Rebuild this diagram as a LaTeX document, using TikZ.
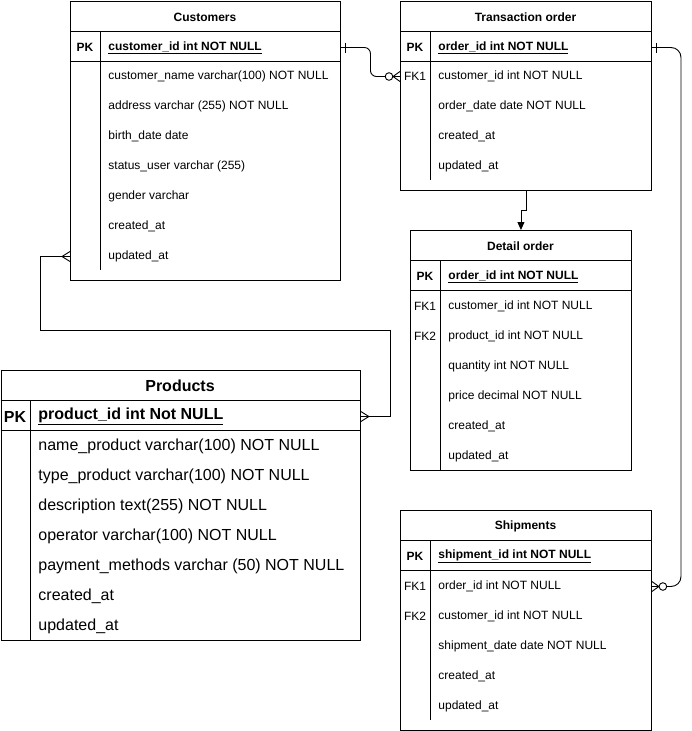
\documentclass[tikz,border=0pt]{standalone}
\usepackage{fontspec}
\setmainfont{Liberation Sans}
\usetikzlibrary{arrows.meta,calc}

\begin{document}
\begin{tikzpicture}[x=1pt,y=-1pt,
  line width=0.9pt,
  frame/.style={draw, line width=0.9pt, inner sep=0, anchor=north west},
  ttl/.style={font=\fontsize{12}{14}\selectfont\bfseries, inner sep=0, yshift=-1.2pt},
  ttlbig/.style={font=\fontsize{16}{19}\selectfont\bfseries, inner sep=0, yshift=-1.2pt},
  fld/.style={font=\fontsize{12}{14}\selectfont, anchor=west, inner sep=0, yshift=-1.5pt},
  fldbig/.style={font=\fontsize{16}{19}\selectfont, anchor=west, inner sep=0, yshift=-1.5pt},
  keyc/.style={font=\fontsize{12}{14}\selectfont, inner sep=0, yshift=-1.5pt},
  keybig/.style={font=\fontsize{16}{19}\selectfont\bfseries, inner sep=0, yshift=-1.5pt},
  conn/.style={line width=0.9pt},
  pics/many/.style={code={\draw[conn] (0,-5) -- (8,0) -- (0,5) (0,0) -- (8,0);}},
  pics/zeromany/.style={code={
    \draw[conn] (0,-5) -- (7,0) -- (0,5) (0,0) -- (7,0);
    \draw[conn,fill=white] (11,0) circle (3.8);}},
  pics/onebar/.style={code={\draw[conn] (5,-5) -- (5,5);}},
]
\useasboundingbox (0,0) rectangle (691,731);

% ---------- Customers ----------
\node[frame, minimum width=270, minimum height=279] (cust) at (70,1) {};
\draw (70,31) -- (340,31) (70,61) -- (340,61) (100,31) -- (100,270);
\node[ttl] (custT) at (205,16) {Customers};
\node[keyc, font=\fontsize{12}{14}\selectfont\bfseries] (custK) at (85,46) {PK};
\node[fld] (custpk) at (108,46) {\textbf{\underline{customer\_id int NOT NULL}}};
\node[fld] (cust1) at (108,75) {customer\_name varchar(100) NOT NULL};
\node[fld] (cust2) at (108,105) {address varchar (255) NOT NULL};
\node[fld] (cust3) at (108,135) {birth\_date date};
\node[fld] (cust4) at (108,165) {status\_user varchar (255)};
\node[fld] (cust5) at (108,195) {gender varchar};
\node[fld] (cust6) at (108,225) {created\_at};
\node[fld] (cust7) at (108,255) {updated\_at};

% ---------- Transaction order ----------
\node[frame, minimum width=251, minimum height=189] (trans) at (400,1) {};
\draw (400,31) -- (651,31) (400,61) -- (651,61) (430,31) -- (430,180);
\node[ttl] (transT) at (525.5,16) {Transaction order};
\node[keyc, font=\fontsize{12}{14}\selectfont\bfseries] (transK) at (415,46) {PK};
\node[fld] (transpk) at (438,46) {\textbf{\underline{order\_id int NOT NULL}}};
\node[keyc] (transF1) at (415,75) {FK1};
\node[fld] (trans1) at (438,75) {customer\_id int NOT NULL};
\node[fld] (trans2) at (438,105) {order\_date date NOT NULL};
\node[fld] (trans3) at (438,135) {created\_at};
\node[fld] (trans4) at (438,165) {updated\_at};

% ---------- Detail order ----------
\node[frame, minimum width=221, minimum height=240] (det) at (410,230) {};
\draw (410,260) -- (631,260) (410,290) -- (631,290) (440,260) -- (440,470);
\node[ttl] (detT) at (520.5,245) {Detail order};
\node[keyc, font=\fontsize{12}{14}\selectfont\bfseries] (detK) at (425,275) {PK};
\node[fld] (detpk) at (448,275) {\textbf{\underline{order\_id int NOT NULL}}};
\node[keyc] (detF1) at (425,305) {FK1};
\node[keyc] (detF2) at (425,335) {FK2};
\node[fld] (det1) at (448,305) {customer\_id int NOT NULL};
\node[fld] (det2) at (448,335) {product\_id int NOT NULL};
\node[fld] (det3) at (448,365) {quantity int NOT NULL};
\node[fld] (det4) at (448,395) {price decimal NOT NULL};
\node[fld] (det5) at (448,425) {created\_at};
\node[fld] (det6) at (448,455) {updated\_at};

% ---------- Shipments ----------
\node[frame, minimum width=251, minimum height=220] (ship) at (400,510) {};
\draw (400,540) -- (651,540) (400,570) -- (651,570) (430,540) -- (430,720);
\node[ttl] (shipT) at (525.5,525) {Shipments};
\node[keyc, font=\fontsize{12}{14}\selectfont\bfseries] (shipK) at (415,555) {PK};
\node[fld] (shippk) at (438,555) {\textbf{\underline{shipment\_id int NOT NULL}}};
\node[keyc] (shipF1) at (415,585) {FK1};
\node[keyc] (shipF2) at (415,615) {FK2};
\node[fld] (ship1) at (438,585) {order\_id int NOT NULL};
\node[fld] (ship2) at (438,615) {customer\_id int NOT NULL};
\node[fld] (ship3) at (438,645) {shipment\_date date NOT NULL};
\node[fld] (ship4) at (438,675) {created\_at};
\node[fld] (ship5) at (438,705) {updated\_at};

% ---------- Products ----------
\node[frame, minimum width=359.5, minimum height=270] (prod) at (0.5,370) {};
\draw (0.5,400) -- (360,400) (0.5,430) -- (360,430) (30,400) -- (30,640);
\node[ttlbig] (prodT) at (180,385) {Products};
\node[keybig] (prodK) at (15,415) {PK};
\node[fldbig] (prodpk) at (38,415) {\textbf{\underline{product\_id int Not NULL}}};
\node[fldbig] (prod1) at (38,445) {name\_product varchar(100) NOT NULL};
\node[fldbig] (prod2) at (38,475) {type\_product varchar(100) NOT NULL};
\node[fldbig] (prod3) at (38,505) {description text(255) NOT NULL};
\node[fldbig] (prod4) at (38,535) {operator varchar(100) NOT NULL};
\node[fldbig] (prod5) at (38,565) {payment\_methods varchar (50) NOT NULL};
\node[fldbig] (prod6) at (38,595) {created\_at};
\node[fldbig] (prod7) at (38,625) {updated\_at};

% ---------- Relationships ----------
% Customers 1 -- 0..* Transaction order
\coordinate (c1a) at (cust.east |- custpk);
\coordinate (c1b) at (trans.west |- trans1);
\draw[conn, rounded corners=6pt] (c1a) -| ($(c1a)!0.5!(c1b)$) |- (c1b);
\pic at (c1a) {onebar};
\pic[rotate=180] at (c1b) {zeromany};

% Customers * -- * Products
\coordinate (c2a) at (cust.west |- cust7);
\coordinate (c2b) at (prod.east |- prodpk);
\coordinate (w1) at (40,330);
\coordinate (w2) at (390,330);
\draw[conn] (c2a) -| (w1) -- (w2) |- (c2b);
\pic[rotate=180] at (c2a) {many};
\pic at (c2b) {many};

% Transaction order -> Detail order
\draw[conn, -{Triangle[length=8pt,width=7pt]}] (trans.south) -- ($(trans.south)+(0,20)$) -| (det.north);

% Transaction order 1 -- 0..* Shipments
\coordinate (c4a) at (trans.east |- transpk);
\coordinate (c4b) at (ship.east |- ship1);
\coordinate (r1) at (681,300);
\draw[conn, rounded corners=10pt] (c4a) -| (r1) |- (c4b);
\pic at (c4a) {onebar};
\pic at (c4b) {zeromany};
\end{tikzpicture}
\end{document}
